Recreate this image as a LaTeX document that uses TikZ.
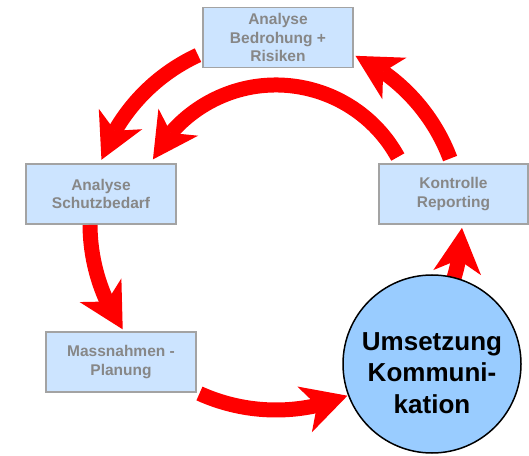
\documentclass[tikz,border=0pt]{standalone}
\usepackage{fontspec}
\setmainfont{Liberation Sans}
\usetikzlibrary{arrows.meta,bending}
\definecolor{boxfill}{HTML}{CCE4FF}
\definecolor{boxline}{HTML}{A3A3A3}
\definecolor{boxtext}{HTML}{878787}
\definecolor{cyclered}{HTML}{FF0000}
\definecolor{hubfill}{HTML}{99CCFF}
\begin{document}
\begin{tikzpicture}[x=1pt,y=1pt,
  stagebox/.style={draw=boxline, line width=1.2pt, fill=boxfill,
    minimum width=150pt, minimum height=60pt, inner sep=0pt, align=center,
    text=boxtext, font=\fontsize{15.5}{18.5}\selectfont\bfseries},
  cyclearrow/.style={draw=cyclered, line width=15pt,
    -{Stealth[length=45pt,width=48pt,inset=13pt,line width=0pt,flex]}},
  hubcircle/.style={circle, draw=black, line width=1.5pt, fill=hubfill,
    minimum size=178pt, inner sep=0pt},
  hubtext/.style={align=center, text=black,
    font=\fontsize{26}{31.7}\selectfont\bfseries}]
\useasboundingbox (0,0) rectangle (529,455);

% the four stage boxes
\node[stagebox] (bedrohung) at (278,417.5) {Analyse\\Bedrohung +\\Risiken};
\node[stagebox] (schutz) at (101,261) {Analyse\\Schutzbedarf};
\node[stagebox, minimum width=149pt] (kontrolle) at (453.5,261) {Kontrolle\\Reporting};
\node[stagebox] (massnahmen) at (121,93) {Massnahmen -\\Planung};

% common centre of the cycle arrows
\coordinate (hub) at (276,231);

% outer ring of arrows
\draw[cyclearrow] ([shift={(114.8:186pt)}]hub) arc[start angle=114.8, end angle=159.8, radius=186pt];
\draw[cyclearrow] ([shift={(180.3:186pt)}]hub) arc[start angle=180.3, end angle=214.5, radius=186pt];
\draw[cyclearrow] ([shift={(245.7:186pt)}]hub) arc[start angle=245.7, end angle=292.6, radius=186pt];
\draw[cyclearrow] ([shift={(330:186pt)}]hub) arc[start angle=330, end angle=358.8, radius=186pt];
\draw[cyclearrow] ([shift={(20.6:186pt)}]hub) arc[start angle=20.6, end angle=64.7, radius=186pt];
% inner shortcut arrow
\draw[cyclearrow] ([shift={(28.8:139pt)}]hub) arc[start angle=28.8, end angle=152.3, radius=139pt];

% implementation stage
\node[hubcircle] (umsetzung) at (432,91) {};
\node[hubtext] (umsetzungtext) at (432,82) {Umsetzung\\Kommuni-\\kation};
\end{tikzpicture}
\end{document}
